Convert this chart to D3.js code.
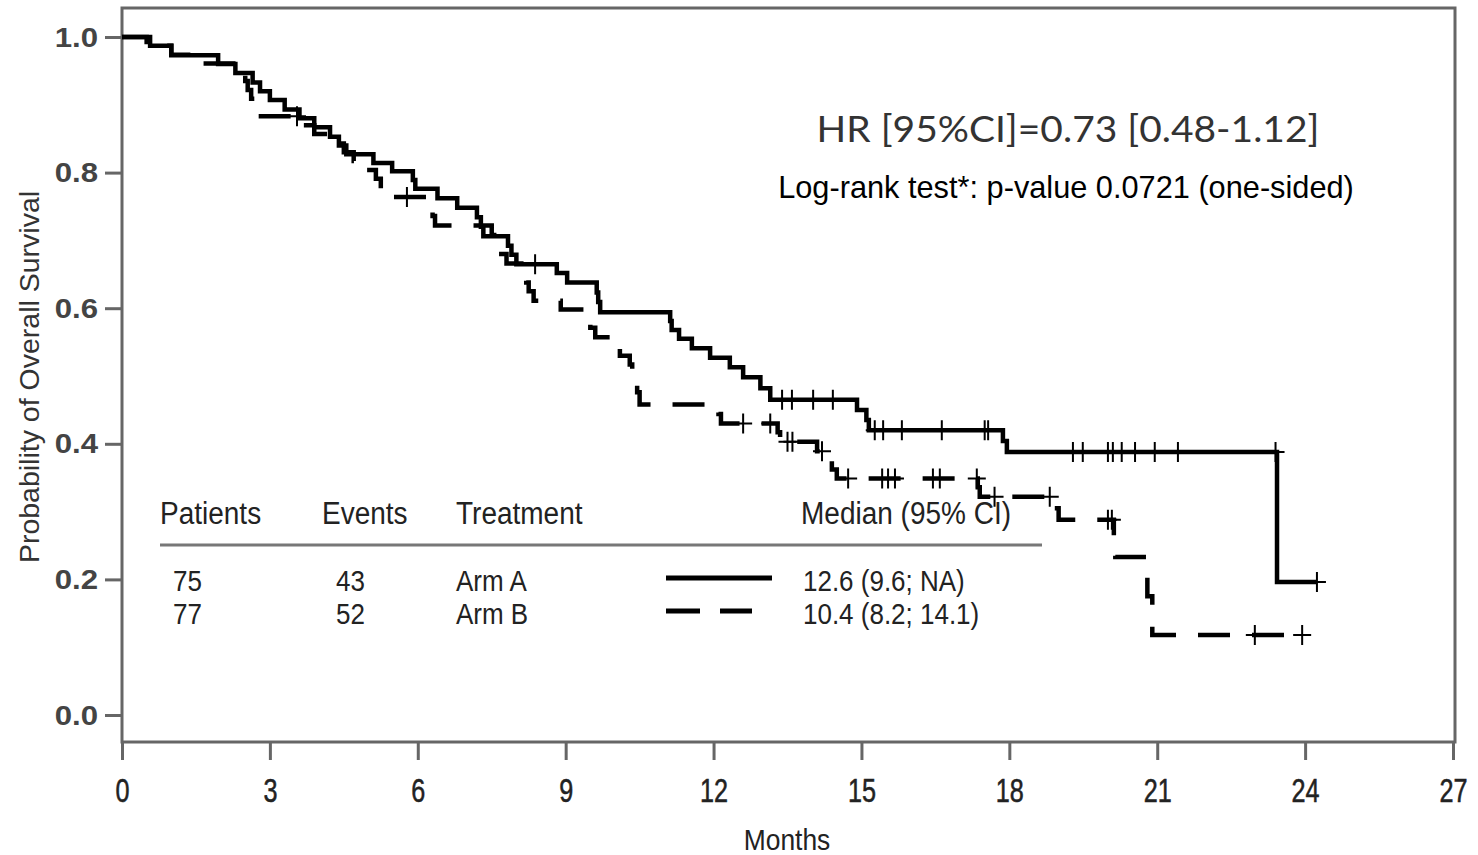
<!DOCTYPE html>
<html>
<head>
<meta charset="utf-8">
<script src="https://cdn.jsdelivr.net/npm/d3@7"></script>
<style>
  body { margin: 0; background: #fff; }
  text { font-family: "Liberation Sans", Arial, sans-serif; }
</style>
</head>
<body>
<svg id="chart" width="1478" height="855"></svg>
<script>
// ---- data ----
var xTicks = [0, 3, 6, 9, 12, 15, 18, 21, 24, 27];
var yTicks = [0, 0.2, 0.4, 0.6, 0.8, 1.0];

// Arm A (solid): event times (months) and survival after each event
var armA_times = [0.57, 1.0, 1.95, 2.3, 2.65, 2.8, 3.0, 3.3, 3.6, 3.9,
                  4.22, 4.4, 4.55, 5.1, 5.48, 5.9, 5.95, 6.4, 6.8, 7.2,
                  7.28, 7.33, 7.83, 7.9, 8.0, 8.82, 9.03, 9.63, 9.66, 9.7,
                  11.12, 11.15, 11.3, 11.56, 11.93, 12.33, 12.6, 12.95, 13.15, 14.91,
                  15.1, 15.15, 17.87, 17.95, 23.43];
var armA_surv  = [0.987, 0.973, 0.96, 0.947, 0.933, 0.92, 0.907, 0.893, 0.88, 0.867,
                  0.853, 0.84, 0.827, 0.814, 0.802, 0.789, 0.776, 0.762, 0.748, 0.734,
                  0.72, 0.706, 0.692, 0.679, 0.665, 0.652, 0.638, 0.623, 0.609, 0.594,
                  0.581, 0.568, 0.555, 0.541, 0.527, 0.513, 0.498, 0.482, 0.465, 0.45,
                  0.435, 0.42, 0.404, 0.388, 0.196];
var armA_censor = [8.38, 13.39, 13.59, 14.02, 14.42, 15.27, 15.44, 15.82, 16.63, 17.5, 17.57,
                   19.29, 19.49, 20.0, 20.1, 20.28, 20.55, 20.95, 21.42, 23.4, 24.24];

// Arm B (dashed)
var armB_times = [0.5, 1.0, 1.6, 2.45, 2.5, 2.55, 2.62, 2.7, 2.75, 3.65,
                  3.9, 4.3, 4.5, 4.7, 4.9, 5.15, 5.25, 5.4, 6.25, 6.3,
                  6.35, 7.5, 7.55, 7.6, 7.8, 8.1, 8.2, 8.25, 8.35, 8.9,
                  9.45, 9.5, 9.6, 9.95, 10.1, 10.3, 10.35, 10.4, 10.45, 10.5,
                  12.1, 12.15, 13.3, 13.35, 14.1, 14.3, 14.4, 14.5, 17.36, 17.4,
                  18.92, 19.0, 20.12, 20.15, 20.8, 20.9];
var armB_surv  = [0.987, 0.974, 0.961, 0.948, 0.935, 0.922, 0.909, 0.896, 0.883, 0.87,
                  0.857, 0.843, 0.83, 0.817, 0.804, 0.791, 0.777, 0.764, 0.75, 0.736,
                  0.722, 0.708, 0.694, 0.68, 0.666, 0.652, 0.638, 0.625, 0.611, 0.598,
                  0.584, 0.571, 0.557, 0.544, 0.53, 0.517, 0.503, 0.49, 0.476, 0.458,
                  0.444, 0.43, 0.417, 0.403, 0.389, 0.375, 0.362, 0.349, 0.336, 0.322,
                  0.305, 0.288, 0.26, 0.233, 0.175, 0.118];
var armB_censor = [3.55, 5.78, 12.6, 13.15, 13.5, 13.6, 14.2, 14.73, 15.42, 15.54, 15.68,
                   16.45, 16.59, 17.34, 17.7, 18.82, 20.0, 20.08, 22.98, 23.94];

// legend table
var tableHeaders = ["Patients", "Events", "Treatment", "Median (95% CI)"];
var tablePatients = ["75", "77"];
var tableEvents = ["43", "52"];
var tableArms = ["Arm A", "Arm B"];
var tableMedians = ["12.6 (9.6; NA)", "10.4 (8.2; 14.1)"];

var hrText = "HR [95%CI]=0.73 [0.48-1.12]";
var logrankText = "Log-rank test*: p-value 0.0721 (one-sided)";

// ---- drawing ----
var svg = d3.select("#chart");

var x = d3.scaleLinear().domain([0, 27]).range([122, 1453]);
var y = d3.scaleLinear().domain([0, 1]).range([715, 37]);

var axisColor = "#666";

// helper for stretched text (picture is a bit taller than wide)
function label(g, px, py, s, size, anchor, sx, sy, color, weight) {
    return g.append("text")
        .attr("transform", "translate(" + px + "," + py + ") scale(" + sx + "," + sy + ")")
        .attr("text-anchor", anchor)
        .style("font-size", size + "px")
        .style("font-weight", weight || "normal")
        .style("fill", color || "#222")
        .text(s);
}

// frame
svg.append("rect")
    .attr("x", 122).attr("y", 8)
    .attr("width", 1333).attr("height", 734)
    .attr("fill", "none")
    .attr("stroke", axisColor)
    .attr("stroke-width", 3);

// y axis
var yAxis = svg.append("g")
    .attr("transform", "translate(122,0)")
    .call(d3.axisLeft(y).tickValues(yTicks).tickSize(17).tickFormat(d3.format(".1f")));
yAxis.select(".domain").remove();
yAxis.selectAll("line").attr("stroke", axisColor).attr("stroke-width", 3);
yAxis.selectAll("text")
    .attr("x", null).attr("dy", null)
    .attr("transform", "translate(-24,9) scale(1.2,1.05)")
    .style("font-size", "26px").style("font-weight", "bold")
    .attr("fill", "#444");

// x axis
var xAxis = svg.append("g")
    .attr("transform", "translate(0,742)")
    .call(d3.axisBottom(x).tickValues(xTicks).tickSize(18));
xAxis.select(".domain").remove();
xAxis.selectAll("line").attr("stroke", axisColor).attr("stroke-width", 3);
xAxis.selectAll("text")
    .attr("y", null).attr("dy", null)
    .attr("transform", "translate(0,60) scale(1.05,1.35)")
    .style("font-size", "24px")
    .style("stroke", "#222").style("stroke-width", 0.4)
    .attr("fill", "#222");

// axis titles
label(svg, 787, 850, "Months", 24, "middle", 1.1, 1.25, "#222");
svg.append("text")
    .attr("transform", "translate(39,377) rotate(-90)")
    .attr("text-anchor", "middle")
    .style("font-size", "28.5px")
    .style("fill", "#333")
    .text("Probability of Overall Survival");

// KM curves
function stepPoints(times, surv, censor) {
    var pts = [[0, 1]];
    times.forEach(function(t, i) { pts.push([t, surv[i]]); });
    var end = d3.max([d3.max(times), d3.max(censor)]);
    pts.push([end, surv[surv.length - 1]]);
    return pts;
}
function survAt(times, surv, t) {
    var i = d3.bisectRight(times, t);
    return i === 0 ? 1 : surv[i - 1];
}

var line = d3.line()
    .x(function(d) { return x(d[0]); })
    .y(function(d) { return y(d[1]); })
    .curve(d3.curveStepAfter);

var arms = [
    { times: armA_times, surv: armA_surv, censor: armA_censor, dash: null },
    { times: armB_times, surv: armB_surv, censor: armB_censor, dash: "32,22" }
];

arms.forEach(function(a) {
    svg.append("path")
        .datum(stepPoints(a.times, a.surv, a.censor))
        .attr("d", line)
        .attr("fill", "none")
        .attr("stroke", "#000")
        .attr("stroke-width", 4.5)
        .attr("stroke-dasharray", a.dash);

    svg.append("g").selectAll("path")
        .data(a.censor)
        .enter()
        .append("path")
        .attr("d", function(t) {
            var cx = x(t), cy = y(survAt(a.times, a.surv, t));
            return "M" + (cx - 9) + "," + cy + "H" + (cx + 9) +
                   "M" + cx + "," + (cy - 10) + "V" + (cy + 10);
        })
        .attr("stroke", "#000")
        .attr("stroke-width", 2);
});

// annotations
label(svg, 1068, 142, hrText, 33, "middle", 1.18, 1.12, "#333").style("font-family", "Lato, 'Open Sans', sans-serif");
label(svg, 1066, 198, logrankText, 29, "middle", 1.06, 1.1, "#000");

// legend table
var headerX = [160, 322, 456, 801];
var table = svg.append("g");
tableHeaders.forEach(function(d, i) {
    label(table, headerX[i], 524, d, 28, "start", 1, 1.1, "#222");
});

table.append("line")
    .attr("x1", 160).attr("x2", 1042)
    .attr("y1", 545).attr("y2", 545)
    .attr("stroke", "#777").attr("stroke-width", 3);

var rowY = [591, 624];
tableArms.forEach(function(arm, i) {
    label(table, 173, rowY[i], tablePatients[i], 26, "start", 1, 1.15, "#222");
    label(table, 336, rowY[i], tableEvents[i], 26, "start", 1, 1.15, "#222");
    label(table, 456, rowY[i], arm, 26, "start", 1, 1.15, "#222");
    label(table, 803, rowY[i], tableMedians[i], 26, "start", 1, 1.15, "#222");
    table.append("line")
        .attr("x1", 666).attr("x2", i === 0 ? 772 : 752)
        .attr("y1", rowY[i] - 13).attr("y2", rowY[i] - 13)
        .attr("stroke", "#000").attr("stroke-width", 5)
        .attr("stroke-dasharray", i === 0 ? null : "34,20");
});
</script>
</body>
</html>
